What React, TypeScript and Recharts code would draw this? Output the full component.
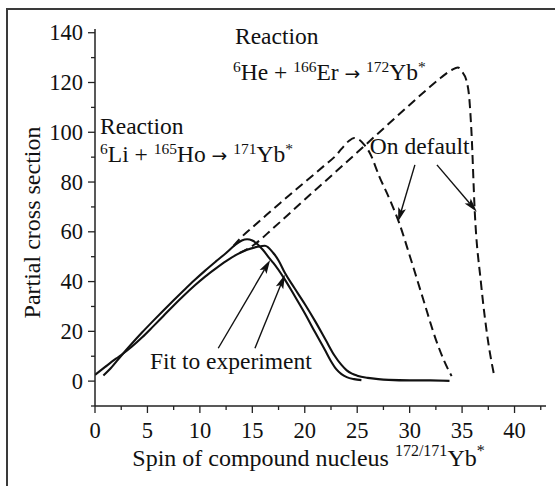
import React from 'react';
import { LineChart, Line, XAxis, YAxis, ReferenceLine, ReferenceDot, Label } from 'recharts';

type P = { x: number; y: number };

// Fit to experiment: 6Li + 165Ho -> 171Yb*
const liFit: P[] = [
  { x: 0.8, y: 2.3 }, { x: 1.5, y: 5.2 }, { x: 2.5, y: 10.2 }, { x: 3.5, y: 15 }, { x: 4.5, y: 19.6 },
  { x: 5.5, y: 24 }, { x: 6.5, y: 28.3 }, { x: 7.5, y: 32.5 }, { x: 8.5, y: 36.6 }, { x: 9.5, y: 40.6 },
  { x: 10.5, y: 44.4 }, { x: 11.5, y: 48 }, { x: 12.5, y: 51.5 }, { x: 13.3, y: 54.5 }, { x: 14, y: 56.5 },
  { x: 14.5, y: 57 }, { x: 15, y: 56.5 }, { x: 16, y: 52.8 }, { x: 16.7, y: 49 }, { x: 17, y: 47.5 },
  { x: 18, y: 41.5 }, { x: 19, y: 34.5 }, { x: 20, y: 27.3 }, { x: 21, y: 19.5 }, { x: 21.9, y: 12.7 },
  { x: 22.5, y: 8 }, { x: 23, y: 4.8 }, { x: 23.5, y: 2.8 }, { x: 24, y: 1.6 }, { x: 24.7, y: 0.8 },
  { x: 25.4, y: 0.4 },
];

// Fit to experiment: 6He + 166Er -> 172Yb*
const heFit: P[] = [
  { x: 0, y: 2.5 }, { x: 1, y: 5.8 }, { x: 2, y: 9 }, { x: 2.5, y: 10.5 }, { x: 3.5, y: 13.8 },
  { x: 4.5, y: 17.6 }, { x: 5.5, y: 21.8 }, { x: 6.5, y: 26.1 }, { x: 7.5, y: 30.4 }, { x: 8.5, y: 34.5 },
  { x: 9.5, y: 38.4 }, { x: 10.5, y: 42 }, { x: 11.5, y: 45.2 }, { x: 12.5, y: 48.2 }, { x: 13.5, y: 50.8 },
  { x: 14.5, y: 52.8 }, { x: 15.5, y: 54 }, { x: 16.2, y: 54.4 }, { x: 17, y: 51.5 }, { x: 17.5, y: 48.5 },
  { x: 18.1, y: 43.5 }, { x: 19, y: 37.5 }, { x: 20, y: 31 }, { x: 21, y: 24 }, { x: 22, y: 16.5 },
  { x: 22.8, y: 10.5 }, { x: 23.5, y: 6.5 }, { x: 24, y: 4.3 }, { x: 24.5, y: 3 }, { x: 25, y: 2.2 },
  { x: 26, y: 1.3 }, { x: 27, y: 0.8 }, { x: 28, y: 0.5 }, { x: 30, y: 0.3 }, { x: 32, y: 0.3 },
  { x: 33.8, y: 0.1 },
];

// On default: 6Li + 165Ho
const liDefault: P[] = [
  { x: 13.2, y: 54.3 }, { x: 14, y: 58 }, { x: 15, y: 61.8 }, { x: 16, y: 65.5 }, { x: 17, y: 69.2 },
  { x: 18, y: 72.8 }, { x: 19, y: 76.4 }, { x: 20, y: 80 }, { x: 21, y: 83.5 }, { x: 22, y: 87.1 },
  { x: 23, y: 90.8 }, { x: 23.5, y: 93.3 }, { x: 24.2, y: 96.5 }, { x: 24.7, y: 97.7 }, { x: 25.2, y: 97 },
  { x: 25.7, y: 94.8 }, { x: 26.2, y: 91.7 }, { x: 27.1, y: 82.3 }, { x: 28.1, y: 73 }, { x: 29, y: 63.6 },
  { x: 30, y: 50.5 }, { x: 31.3, y: 32.8 }, { x: 32.5, y: 16.7 }, { x: 33.3, y: 8 }, { x: 34, y: 2 },
];

// On default: 6He + 166Er
const heDefault: P[] = [
  { x: 13.8, y: 51.5 }, { x: 15.1, y: 54.6 }, { x: 17, y: 61.5 }, { x: 20, y: 73 }, { x: 23, y: 84.3 },
  { x: 25.6, y: 94.2 }, { x: 28, y: 103.4 }, { x: 31.6, y: 117 }, { x: 33, y: 122 }, { x: 34, y: 125 },
  { x: 34.6, y: 126 }, { x: 35, y: 124.3 }, { x: 35.4, y: 121 }, { x: 35.7, y: 113 }, { x: 35.9, y: 99.6 },
  { x: 36.2, y: 68.8 }, { x: 36.8, y: 39.5 }, { x: 37.5, y: 15.4 }, { x: 38.1, y: 1.4 },
];

const xTicks = [0, 2.5, 5, 7.5, 10, 12.5, 15, 17.5, 20, 22.5, 25, 27.5, 30, 32.5, 35, 37.5, 40, 42.5];
const yTicks = [-10, 0, 10, 20, 30, 40, 50, 60, 70, 80, 90, 100, 110, 120, 130, 140];

// arrows (data coordinates): from -> tip
const arrows = [
  { x1: 30.5, y1: 86.9, x2: 28.9, y2: 64.1 },
  { x1: 32.6, y1: 86.9, x2: 36.4, y2: 68.1 },
  { x1: 11.75, y1: 13.2, x2: 16.7, y2: 48.7 },
  { x1: 15.25, y1: 13.2, x2: 18.1, y2: 42.7 },
];

type Part = { t: string; sup?: boolean; arrow?: boolean };
const annotations: { x: number; y: number; parts: Part[] }[] = [
  { x: 13.35, y: 135.4, parts: [{ t: 'Reaction' }] },
  {
    x: 13.16, y: 121.0, parts: [
      { t: '6', sup: true }, { t: 'He + ' }, { t: '166', sup: true }, { t: 'Er ' }, { t: '\u2192', arrow: true }, { t: ' ' },
      { t: '172', sup: true }, { t: 'Yb' }, { t: '*', sup: true },
    ],
  },
  { x: 0.48, y: 99.4, parts: [{ t: 'Reaction' }] },
  {
    x: 0.48, y: 88.1, parts: [
      { t: '6', sup: true }, { t: 'Li + ' }, { t: '165', sup: true }, { t: 'Ho ' }, { t: '\u2192', arrow: true }, { t: ' ' },
      { t: '171', sup: true }, { t: 'Yb' }, { t: '*', sup: true },
    ],
  },
  { x: 26.2, y: 91.3, parts: [{ t: 'On default' }] },
  { x: 5.24, y: 4.9, parts: [{ t: 'Fit to experiment' }] },
];

const FONT = "'Liberation Serif', 'DejaVu Serif', serif";
const ARROW_FONT = "'DejaVu Sans', sans-serif";
const INK = '#111';
const AXIS = '#222';

function Rich({ x, y, parts, size }: { x: number; y: number; parts: Part[]; size: number }) {
  let shift = 0;
  return (
    <text x={x} y={y} fill={INK} style={{ whiteSpace: 'pre', fontFamily: FONT, fontSize: size }}>
      {parts.map((p, i) => {
        const target = p.sup ? -size * 0.32 : 0;
        const dy = target - shift;
        shift = target;
        const st: any = { fontSize: p.sup ? size * 0.66 : p.arrow ? size * 0.8 : size };
        if (p.arrow) st.fontFamily = ARROW_FONT;
        return (
          <tspan key={i} dy={dy} style={st}>
            {p.t}
          </tspan>
        );
      })}
    </text>
  );
}

const XTick = (props: any) => {
  const { x, y, payload } = props;
  const v = payload.value;
  const major = v % 5 === 0;
  return (
    <g>
      <line x1={x} x2={x} y1={y} y2={y + (major ? 7 : 4)} stroke={AXIS} strokeWidth={1.3} />
      {major && (
        <text x={x} y={y + 31.5} textAnchor="middle" fill={INK} style={{ fontFamily: FONT, fontSize: 22.5 }}>
          {v}
        </text>
      )}
    </g>
  );
};

const YTick = (props: any) => {
  const { x, y, payload } = props;
  const v = payload.value;
  const major = v % 20 === 0 && v >= 0;
  return (
    <g>
      <line x1={x} x2={x - (major ? 7 : 4)} y1={y} y2={y} stroke={AXIS} strokeWidth={1.3} />
      {major && (
        <text x={x - 12} y={y + 7.5} textAnchor="end" fill={INK} style={{ fontFamily: FONT, fontSize: 22.5 }}>
          {v}
        </text>
      )}
    </g>
  );
};

const arrowShape = (props: any) => {
  const { x1, y1, x2, y2 } = props;
  const ang = Math.atan2(y2 - y1, x2 - x1);
  const c = Math.cos(ang);
  const s = Math.sin(ang);
  const L = 14;
  const W = 4;
  const bx = x2 - L * c;
  const by = y2 - L * s;
  return (
    <g>
      <line x1={x1} y1={y1} x2={bx + 3 * c} y2={by + 3 * s} stroke={INK} strokeWidth={1.4} />
      <polygon
        points={`${x2},${y2} ${bx - W * s},${by + W * c} ${bx + 3 * c},${by + 3 * s} ${bx + W * s},${by - W * c}`}
        fill={INK}
      />
    </g>
  );
};

const xTitle = (props: any) => {
  const vb = props.viewBox;
  const cx = vb.x + vb.width / 2 - 12;
  return (
    <g>
      <text x={cx} y={vb.y + 60} textAnchor="middle" fill={INK} style={{ whiteSpace: 'pre', fontFamily: FONT, fontSize: 24 }}>
        <tspan>Spin of compound nucleus </tspan>
        <tspan dy={-10} style={{ fontSize: 16 }}>172/171</tspan>
        <tspan dy={10} style={{ fontSize: 24 }}>Yb</tspan>
        <tspan dy={-10} style={{ fontSize: 16 }}>*</tspan>
      </text>
    </g>
  );
};

const yTitle = (props: any) => {
  const vb = props.viewBox;
  const cx = vb.x + 40;
  const cy = vb.y + vb.height / 2 + 5;
  return (
    <text
      x={cx}
      y={cy}
      transform={`rotate(-90 ${cx} ${cy})`}
      textAnchor="middle"
      fill={INK}
      style={{ fontFamily: FONT, fontSize: 24 }}
    >
      Partial cross section
    </text>
  );
};

export default function App() {
  return (
    <div style={{ position: 'absolute', left: 0, top: 0, width: 555, height: 486, background: '#fff' }}>
      <div
        style={{
          position: 'absolute',
          left: 6,
          top: 8,
          width: 549,
          height: 478,
          borderLeft: '2px solid #3a3a3a',
          borderTop: '2px solid #3a3a3a',
          boxSizing: 'border-box',
        }}
      />
      <div style={{ position: 'absolute', left: 0, top: 0 }}>
        <LineChart width={555} height={486} margin={{ top: 29, right: 9, bottom: 0, left: 0 }}>
          <XAxis
            type="number"
            dataKey="x"
            domain={[0, 43]}
            ticks={xTicks}
            allowDataOverflow
            interval={0}
            height={80}
            tickSize={0}
            tickMargin={0}
            tickLine={false}
            axisLine={{ stroke: AXIS, strokeWidth: 1.5 }}
            tick={<XTick />}
          >
            <Label content={xTitle} />
          </XAxis>
          <YAxis
            type="number"
            dataKey="y"
            domain={[-10, 141.5]}
            ticks={yTicks}
            allowDataOverflow
            interval={0}
            width={95}
            tickSize={0}
            tickMargin={0}
            tickLine={false}
            axisLine={{ stroke: AXIS, strokeWidth: 1.5 }}
            tick={<YTick />}
          >
            <Label content={yTitle} />
          </YAxis>
          <Line data={liFit} type="monotone" dataKey="y" stroke={INK} strokeWidth={2.1} dot={false} isAnimationActive={false} />
          <Line data={heFit} type="monotone" dataKey="y" stroke={INK} strokeWidth={2.1} dot={false} isAnimationActive={false} />
          <Line data={liDefault} type="monotone" dataKey="y" stroke={INK} strokeWidth={2} strokeDasharray="9 5" dot={false} isAnimationActive={false} />
          <Line data={heDefault} type="monotone" dataKey="y" stroke={INK} strokeWidth={2} strokeDasharray="9 5" dot={false} isAnimationActive={false} />
          {arrows.map((a, i) => (
            <ReferenceLine
              key={'a' + i}
              segment={[{ x: a.x1, y: a.y1 }, { x: a.x2, y: a.y2 }]}
              ifOverflow="visible"
              shape={arrowShape}
            />
          ))}
          {annotations.map((t, i) => (
            <ReferenceDot
              key={'t' + i}
              x={t.x}
              y={t.y}
              r={0}
              ifOverflow="visible"
              shape={(p: any) => <Rich x={p.cx} y={p.cy} parts={t.parts} size={23.5} />}
            />
          ))}
        </LineChart>
      </div>
    </div>
  );
}
